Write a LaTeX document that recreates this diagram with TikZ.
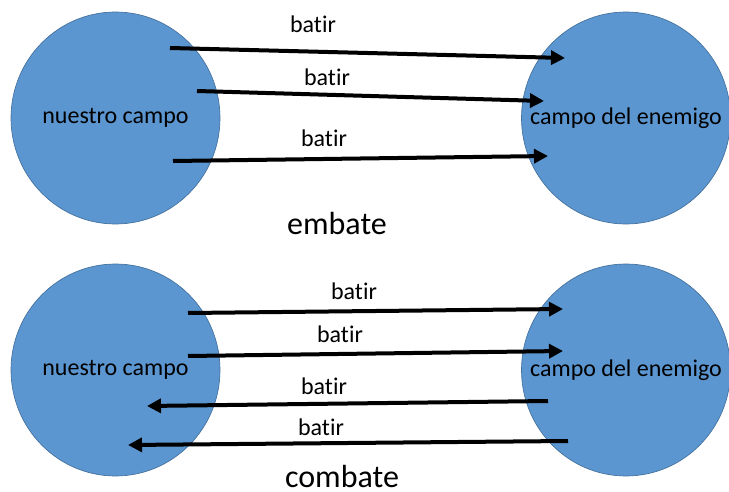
\documentclass[tikz,border=0pt]{standalone}
\usepackage{fontspec}
\setmainfont{Carlito}[Ligatures={NoCommon}]
\usetikzlibrary{shapes.geometric,arrows.meta}
\definecolor{azul}{RGB}{91,150,208}

\begin{document}
\begin{tikzpicture}[x=0.75pt,y=-0.75pt,
    campo/.style={ellipse,fill=azul,draw=azul!75!black,line width=0.5pt,
      inner sep=0pt,minimum width=156.75pt,minimum height=159pt,
      label={[font=\fontsize{18}{21}\selectfont]center:#1}},
    flecha/.style={line width=3pt,->,>={Triangle[length=10.5pt,width=10.5pt]}},
    etiqueta/.style={font=\fontsize{18}{21}\selectfont,inner sep=0pt},
    titulo/.style={font=\fontsize{24}{28}\selectfont,inner sep=0pt}]
  \useasboundingbox (0,0) rectangle (729,492);

  % embate
  \node[campo={nuestro campo}] (nuestroA) at (115.5,118) {};
  \node[campo={campo del enemigo}] (enemigoA) at (626,118) {};
  \coordinate (a1) at (170,48);  \coordinate (b1) at (565,58);
  \coordinate (a2) at (197,91);  \coordinate (b2) at (544,101);
  \coordinate (a3) at (173,161); \coordinate (b3) at (548,156);
  \draw[flecha] (a1) -- (b1);
  \draw[flecha] (a2) -- (b2);
  \draw[flecha] (a3) -- (b3);
  \node[etiqueta] (batirA1) at (313,24)  {batir};
  \node[etiqueta] (batirA2) at (327,77)  {batir};
  \node[etiqueta] (batirA3) at (324,138) {batir};
  \node[titulo] (embate) at (337,224) {embate};

  % combate
  \node[campo={nuestro campo}] (nuestroB) at (115.5,370) {};
  \node[campo={campo del enemigo}] (enemigoB) at (626,370) {};
  \coordinate (c1) at (188,313); \coordinate (d1) at (563,309);
  \coordinate (c2) at (188,356); \coordinate (d2) at (563,351);
  \coordinate (c3) at (548,401); \coordinate (d3) at (147,406);
  \coordinate (c4) at (568,441); \coordinate (d4) at (128,445);
  \draw[flecha] (c1) -- (d1);
  \draw[flecha] (c2) -- (d2);
  \draw[flecha] (c3) -- (d3); % de vuelta
  \draw[flecha] (c4) -- (d4);
  \node[etiqueta] (batirB1) at (354,291) {batir};
  \node[etiqueta] (batirB2) at (340,334) {batir};
  \node[etiqueta] (batirB3) at (324,386) {batir};
  \node[etiqueta] (batirB4) at (321,427) {batir};
  \node[titulo] (combate) at (342,477) {combate};
\end{tikzpicture}
\end{document}
